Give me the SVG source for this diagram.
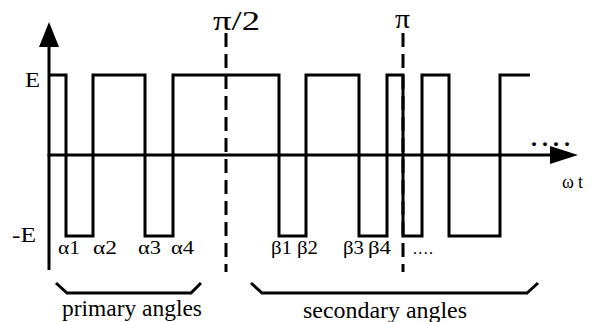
<svg xmlns="http://www.w3.org/2000/svg" width="595" height="322" viewBox="0 0 595 322">
<style>
.ln{fill:none;stroke:#000;stroke-width:3}
.dash{fill:none;stroke:#000;stroke-width:3;stroke-dasharray:14 7}
.lbl{font-size:18px}
.big{font-size:22px}
</style>
<rect width="595" height="322" fill="#fff"/>
<g id="axes">
<line class="ln" x1="49" y1="42" x2="49" y2="270"/>
<polygon points="49,22 39,47 59,47" fill="#000"/>
<line class="ln" x1="47.5" y1="155" x2="555" y2="155"/>
<polygon points="578,155 550,146 550,164" fill="#000"/>
</g>
<g id="waveform">
<path class="ln" d="M49,75 H66 V236 H93 V75 H145 V236 H173 V75 H279 V236 H306 V75 H359 V236 H387 V75 H403 V236 H422 V75 H449 V236 H500 V75 H530"/>
</g>
<g id="markers">
<line class="dash" x1="226" y1="33" x2="226" y2="272"/>
<line class="dash" x1="403" y1="33" x2="403" y2="272"/>
</g>
<g id="braces">
<polyline class="ln" points="56,283 67,293 191,293 201,283"/>
<polyline class="ln" points="251,283 262,293 527,293 538,283"/>
</g>
<g id="labels" font-family="'Liberation Serif', 'Times New Roman', serif" fill="#000">
<text x="213" y="30" font-size="27" textLength="47" lengthAdjust="spacingAndGlyphs">π/2</text>
<text x="395" y="28" font-size="27" textLength="15" lengthAdjust="spacingAndGlyphs">π</text>
<text class="big" x="25" y="87" textLength="15" lengthAdjust="spacingAndGlyphs">E</text>
<text class="big" x="12" y="242" textLength="24" lengthAdjust="spacingAndGlyphs">-E</text>
<text class="lbl" x="58" y="254" textLength="22" lengthAdjust="spacingAndGlyphs">α1</text>
<text class="lbl" x="93" y="254" textLength="24" lengthAdjust="spacingAndGlyphs">α2</text>
<text class="lbl" x="138" y="254" textLength="23" lengthAdjust="spacingAndGlyphs">α3</text>
<text class="lbl" x="171" y="254" textLength="23" lengthAdjust="spacingAndGlyphs">α4</text>
<text class="lbl" x="271" y="254" textLength="21" lengthAdjust="spacingAndGlyphs">β1</text>
<text class="lbl" x="297" y="254" textLength="21" lengthAdjust="spacingAndGlyphs">β2</text>
<text class="lbl" x="343" y="254" textLength="21" lengthAdjust="spacingAndGlyphs">β3</text>
<text class="lbl" x="368" y="254" textLength="23" lengthAdjust="spacingAndGlyphs">β4</text>
<text x="413" y="254" font-size="16" textLength="20">....</text>
<text class="lbl" x="562" y="188" textLength="21">ωt</text>
<text x="531" y="146" font-size="24" font-weight="bold" letter-spacing="5">....</text>
<text x="62" y="316" font-size="23" textLength="140" lengthAdjust="spacingAndGlyphs">primary angles</text>
<text x="303" y="318" font-size="23" textLength="164" lengthAdjust="spacingAndGlyphs">secondary angles</text>
</g>
</svg>
